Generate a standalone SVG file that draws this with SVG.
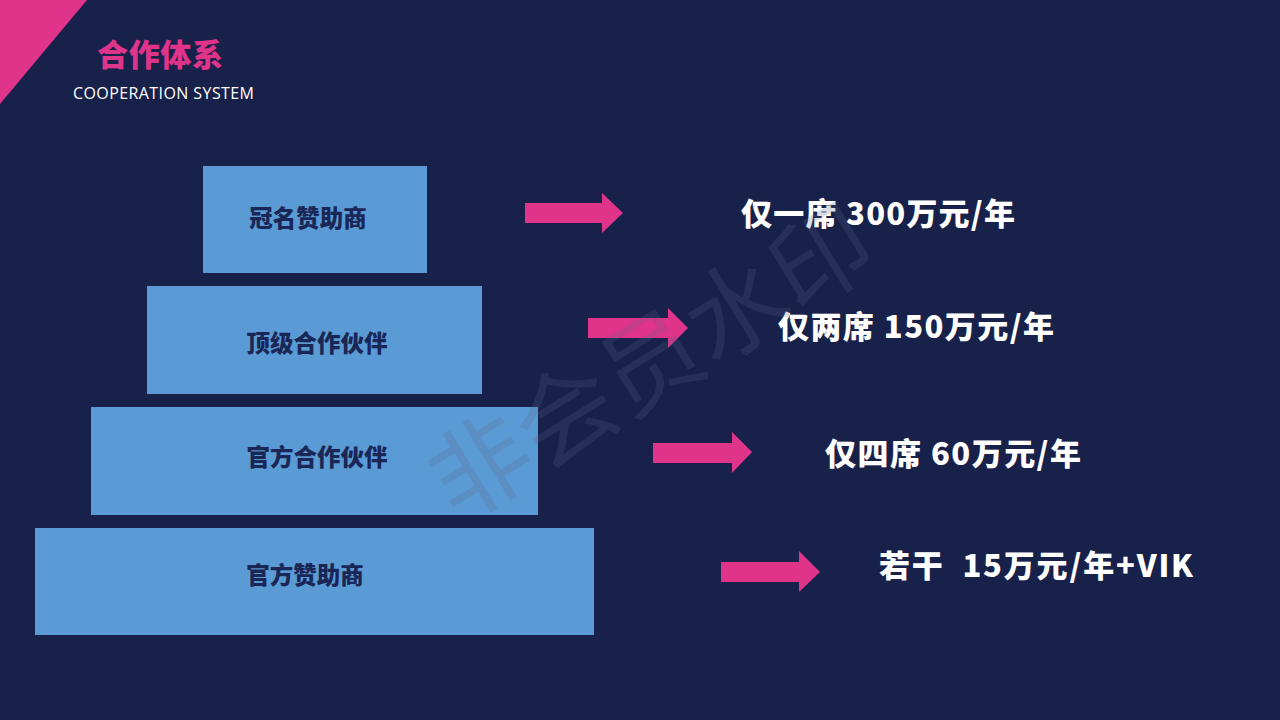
<svg xmlns="http://www.w3.org/2000/svg" width="1280" height="720" viewBox="0 0 1280 720">
  <style>
    .box { fill: #5B9BD5; }
    .boxtxt { font-family: "Noto Sans CJK SC", "Microsoft YaHei", sans-serif; font-weight: 900; font-size: 23.5px; fill: #1A2655; text-anchor: middle; dominant-baseline: central; }
    .arrow { fill: #E0338A; }
    .price { font-family: "Noto Sans CJK SC", "Microsoft YaHei", sans-serif; font-weight: 900; font-size: 31px; fill: #FFFFFF; }
    .wm { font-family: "Noto Sans CJK SC", sans-serif; font-weight: 400; font-size: 100px; fill: #5A6488; fill-opacity: 0.22; text-anchor: middle; dominant-baseline: central; }
  </style>
  <rect x="0" y="0" width="1280" height="720" fill="#18214A"/>

  <g id="header">
    <polygon points="0,0 87,0 0,104" fill="#E0338A"/>
    <text x="97" y="66" font-family="Noto Sans CJK SC, sans-serif" font-weight="900" font-size="31" fill="#E0338A" textLength="126">合作体系</text>
    <text x="73" y="99" font-family="Open Sans, Liberation Sans, sans-serif" font-size="16" fill="#FFFFFF" textLength="181">COOPERATION SYSTEM</text>
  </g>

  <g id="tier1">
    <rect class="box" x="203" y="166" width="224" height="107"/>
    <text class="boxtxt" x="308" y="217">冠名赞助商</text>
  </g>
  <g id="tier2">
    <rect class="box" x="147" y="286" width="335" height="108"/>
    <text class="boxtxt" x="317" y="342">顶级合作伙伴</text>
  </g>
  <g id="tier3">
    <rect class="box" x="91" y="407" width="447" height="108"/>
    <text class="boxtxt" x="317" y="456">官方合作伙伴</text>
  </g>
  <g id="tier4">
    <rect class="box" x="35" y="528" width="559" height="107"/>
    <text class="boxtxt" x="305" y="574">官方赞助商</text>
  </g>

  <g id="connectors">
    <polygon class="arrow" points="525,203 602,203 602,193 623,213 602,233 602,223 525,223"/>
    <polygon class="arrow" points="588,318 668,318 668,308 688,328 668,348 668,338 588,338"/>
    <polygon class="arrow" points="653,443 732,443 732,432 752,452 732,473 732,463 653,463"/>
    <polygon class="arrow" points="721,562 799,562 799,551 820,572 799,592 799,582 721,582"/>
  </g>

  <g id="price1">
    <text class="price" x="741" y="225" textLength="274">仅一席 300万元/年</text>
  </g>
  <g id="price2">
    <text class="price" x="778" y="338" textLength="276">仅两席 150万元/年</text>
  </g>
  <g id="price3">
    <text class="price" x="825" y="465" textLength="256">仅四席 60万元/年</text>
  </g>
  <g id="price4">
    <text class="price" x="879" y="577" textLength="314" xml:space="preserve">若干  15万元/年+VIK</text>
  </g>

  <g id="watermark">
    <text class="wm" transform="translate(647,356) rotate(-31.6)">非会员水印</text>
  </g>
</svg>
